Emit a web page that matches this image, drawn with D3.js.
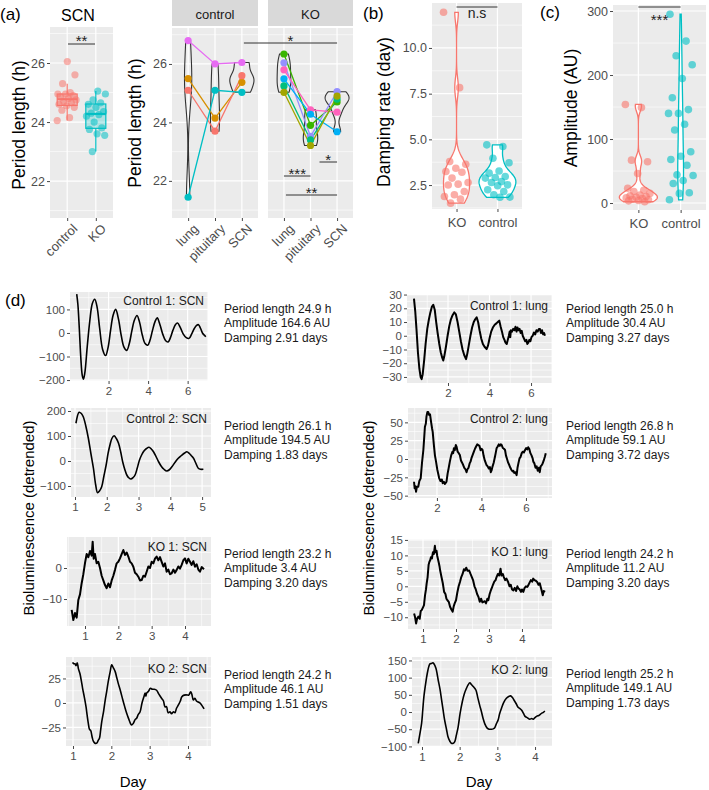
<!DOCTYPE html>
<html><head><meta charset="utf-8">
<script src="https://cdn.jsdelivr.net/npm/d3@7"></script>
<style>body{margin:0;background:#fff}svg{display:block;font-family:"Liberation Sans",Arial,sans-serif}</style>
</head><body><svg id="c" width="709" height="790"></svg>
<script>
// ---------------- DATA ----------------
// (a) SCN period length boxplot
const scnGroups = ['control','KO'];
const scnPeriodControl = [24.05,24.15,24.4,24.5,24.55,24.6,24.65,24.7,24.75,24.8,24.85,24.9,24.95,24.95,25.0,25.3,25.6,26.05];
const scnPeriodKO = [23.0,23.55,23.6,23.75,23.8,24.0,24.2,24.25,24.3,24.35,24.5,24.6,24.65,24.75,24.95,25.05];
// (a) paired tissues, one entry per animal [lung, pituitary, SCN]
const tissues = ['lung','pituitary','SCN'];
const pairedControl = [[26.8,26.0,26.05],[25.5,24.15,25.37],[25.1,23.7,25.6],[21.44,25.1,25.03]];
const pairedKO = [[26.34,23.9,24.7],[26.04,23.52,25.05],[25.8,24.43,24.35],[25.49,24.28,23.68],[25.25,23.4,24.8],[25.03,23.21,24.9]];
// (b) damping rate
const bcGroups = ['KO','control'];
const dampKO = [11.95,7.83,3.79,3.64,3.42,3.24,3.2,2.88,2.64,2.55,2.5,2.15,1.97,1.87,1.73,1.51];
const dampControl = [4.7,4.61,3.97,3.72,3.27,3.15,2.97,2.91,2.88,2.69,2.64,2.51,2.46,2.24,2.15,1.97,1.84,1.83];
// (c) amplitude
const ampKO = [154,149.1,67,64.5,46.1,23,20,18,15,12.5,11.2,10,9,8,7,6,5,4,3.4,2];
const ampControl = [295,253,230,216,194.5,164.6,146,140,140,123,114,80,73,68,59.1,44,43,35,30.4,16,15,5];
// (d) detrended bioluminescence traces [day, value]
const scnC1 = [[0.39,165],[0.45,120],[0.52,20],[0.6,-110],[0.67,-180],[0.73,-196],[0.8,-170],[0.92,-60],[1.05,50],[1.18,125],[1.3,143],[1.42,110],[1.55,20],[1.7,-70],[1.85,-96],[1.98,-60],[2.1,10],[2.23,75],[2.36,100],[2.5,60],[2.64,-10],[2.78,-60],[2.92,-74],[3.05,-45],[3.18,10],[3.31,55],[3.44,74],[3.57,45],[3.71,-10],[3.85,-45],[3.98,-52],[4.1,-30],[4.22,10],[4.35,48],[4.46,64],[4.6,35],[4.74,-5],[4.88,-32],[5.01,-38],[5.13,-20],[5.25,10],[5.38,35],[5.49,42],[5.62,25],[5.78,-5],[5.93,-20],[6.07,-23],[6.2,-5],[6.33,18],[6.45,32],[6.55,35],[6.65,20],[6.75,0],[6.85,-10],[6.92,-16]];
const scnC2 = [[1.03,151],[1.13,195],[1.2,190],[1.26,177],[1.34,140],[1.42,91],[1.5,30],[1.58,-29],[1.65,-95],[1.71,-127],[1.77,-120],[1.84,-103],[1.91,-60],[1.98,-16],[2.04,30],[2.1,64],[2.16,90],[2.23,101],[2.3,90],[2.37,71],[2.44,35],[2.5,-3],[2.57,-35],[2.63,-56],[2.7,-68],[2.76,-72],[2.83,-66],[2.89,-56],[2.96,-28],[3.03,4],[3.1,25],[3.17,40],[3.25,50],[3.33,55],[3.4,48],[3.47,37],[3.55,18],[3.63,-3],[3.72,-22],[3.8,-33],[3.89,-40],[3.97,-35],[4.05,-23],[4.15,-5],[4.25,11],[4.35,22],[4.45,32],[4.52,37],[4.6,30],[4.67,20],[4.73,11],[4.8,-8],[4.88,-29],[4.95,-33],[5.04,-33]];
const scnK1 = [[0.6,-13.5],[0.65,-16.8],[0.7,-14.5],[0.75,-16],[0.8,-10.3],[0.85,-8.5],[0.9,-4.9],[0.95,-2],[1.0,1.6],[1.05,4.5],[1.1,3.5],[1.15,5.5],[1.2,4],[1.23,8.5],[1.26,3],[1.3,4.5],[1.35,1.5],[1.4,2],[1.45,0],[1.5,-2.5],[1.55,-4],[1.6,-5.5],[1.65,-6.5],[1.7,-5],[1.75,-6.2],[1.8,-4],[1.85,-2.5],[1.9,-0.6],[1.95,1.5],[2.0,2],[2.05,3.1],[2.1,4.5],[2.15,5.8],[2.2,4.2],[2.25,5],[2.3,3.7],[2.35,2],[2.4,1.5],[2.45,0.4],[2.5,-1.5],[2.55,-2],[2.6,-2.8],[2.65,-4],[2.7,-3.9],[2.75,-2.5],[2.8,-2.8],[2.85,-1.2],[2.9,0.5],[2.95,0],[3.0,2],[3.05,1.5],[3.1,3],[3.15,3.7],[3.2,2.5],[3.25,3.5],[3.3,2],[3.35,0.5],[3.4,1.5],[3.45,-1.2],[3.5,-0.5],[3.55,-2],[3.6,-1.7],[3.65,-0.5],[3.7,-1.5],[3.75,-0.6],[3.8,0.5],[3.85,-0.2],[3.9,1],[3.95,2.5],[4.0,3.1],[4.05,1.5],[4.1,3],[4.15,2],[4.2,1],[4.25,2.2],[4.3,0.4],[4.35,1.2],[4.4,-0.5],[4.45,-1.2],[4.5,0.3],[4.57,-0.4]];
const scnK2 = [[0.99,41.5],[1.02,40],[1.05,40],[1.08,38],[1.11,41],[1.14,35],[1.18,30],[1.22,22],[1.25,15],[1.3,5],[1.34,-4],[1.37,-13],[1.4,-21],[1.43,-27],[1.46,-28],[1.5,-35],[1.53,-39],[1.57,-41],[1.62,-41],[1.66,-38],[1.69,-36],[1.72,-28],[1.75,-19],[1.8,-8],[1.84,3],[1.88,12],[1.92,22],[1.97,32],[2.01,39],[2.05,36],[2.1,32],[2.14,26],[2.18,20],[2.24,12],[2.3,3],[2.35,-4],[2.4,-10.5],[2.45,-16],[2.5,-21],[2.53,-22.5],[2.57,-21],[2.62,-17],[2.66,-15.6],[2.7,-12],[2.75,-9],[2.8,0],[2.85,6.4],[2.88,10],[2.9,7],[2.92,10],[2.97,12],[3.02,15],[3.07,14],[3.12,14],[3.18,13],[3.24,9],[3.31,4.8],[3.36,2],[3.4,-4],[3.44,-3.8],[3.48,-10],[3.53,-9],[3.57,-11],[3.62,-9],[3.66,-10],[3.7,-5.4],[3.75,-2],[3.8,2],[3.84,6.4],[3.9,8],[3.97,8.2],[4.02,8],[4.07,11.5],[4.1,9],[4.14,3],[4.18,4.8],[4.22,2],[4.27,1],[4.32,-0.3],[4.37,-3],[4.42,-6]];
const lungC1 = [[0.36,27],[0.42,18],[0.48,5],[0.55,-12],[0.62,-24],[0.68,-30],[0.73,-31.6],[0.78,-28],[0.85,-18],[0.92,-6],[1.0,5],[1.08,12],[1.15,17],[1.22,21],[1.29,22.6],[1.36,19],[1.43,10],[1.5,2],[1.58,-6],[1.65,-12],[1.72,-16],[1.77,-18],[1.82,-15],[1.9,-8],[1.98,0],[2.06,7],[2.14,12],[2.22,15],[2.3,17],[2.38,15.5],[2.46,10],[2.54,3],[2.62,-4],[2.7,-10],[2.78,-14],[2.87,-17],[2.93,-13],[3.0,-7],[3.08,0],[3.16,6],[3.24,10],[3.31,12],[3.38,13.4],[3.45,10],[3.52,4],[3.6,-2],[3.68,-6],[3.76,-8],[3.86,-9.7],[3.93,-7],[4.0,-2],[4.08,3],[4.16,6],[4.25,8],[4.33,9],[4.4,10],[4.47,11],[4.53,7],[4.6,3],[4.66,-1],[4.72,-3],[4.77,-5],[4.83,-6],[4.88,-3],[4.93,0],[4.97,3],[5.0,-1],[5.03,4],[5.08,3],[5.14,5],[5.2,4],[5.25,6.5],[5.3,3],[5.35,6],[5.39,4],[5.45,5],[5.5,2],[5.55,3.6],[5.6,0],[5.66,-2],[5.72,-4],[5.78,-3],[5.82,-6],[5.87,-5],[5.92,-3],[5.97,-4],[6.02,-1],[6.08,0],[6.14,2.4],[6.2,1],[6.26,4],[6.32,3],[6.38,5],[6.43,4.9],[6.48,2],[6.53,4],[6.58,1],[6.63,2],[6.67,0]];
const lungC2 = [[0.97,-31],[1.0,-40],[1.03,-37],[1.06,-44.6],[1.1,-38],[1.16,-37.8],[1.21,-30],[1.27,-26.4],[1.33,-5],[1.39,12.3],[1.43,30],[1.46,44],[1.5,48],[1.53,58],[1.57,64],[1.61,64],[1.65,60],[1.69,61],[1.74,50],[1.78,42],[1.81,37],[1.86,20],[1.91,5],[1.96,-3.6],[2.02,-15],[2.1,-26],[2.16,-30],[2.22,-28],[2.26,-33],[2.31,-31],[2.36,-34],[2.43,-31],[2.48,-20],[2.53,-12],[2.58,-3.6],[2.64,5],[2.7,10],[2.73,8],[2.76,14.6],[2.8,12],[2.85,19],[2.88,17],[2.93,10],[2.98,8],[3.03,5.5],[3.08,-2],[3.13,-5],[3.18,-8.2],[3.23,-12],[3.28,-14],[3.33,-18],[3.37,-14],[3.42,-12],[3.47,-6],[3.51,-3.6],[3.56,2],[3.61,6],[3.66,10],[3.71,14],[3.76,17],[3.81,20],[3.86,19],[3.91,18],[3.96,12],[4.0,14],[4.05,12.3],[4.1,4],[4.15,-2],[4.2,-6],[4.23,-8.2],[4.28,-10],[4.33,-13],[4.38,-11],[4.42,-18],[4.46,-15],[4.5,-10],[4.55,-5],[4.6,2],[4.64,8],[4.68,14.6],[4.73,17],[4.78,20],[4.83,18],[4.87,20],[4.91,19],[4.96,15],[5.01,14],[5.06,12.3],[5.1,5],[5.15,0],[5.2,-5],[5.25,-8.2],[5.3,-12],[5.35,-15],[5.4,-17],[5.43,-16],[5.48,-19],[5.53,-18],[5.58,-22],[5.62,-12],[5.66,-6],[5.71,0.9],[5.76,3],[5.81,8],[5.86,10],[5.91,9],[5.96,12.3],[6.01,15],[6.06,13],[6.1,16],[6.15,13.6],[6.2,8],[6.25,5],[6.3,1],[6.33,-3.6],[6.38,-6],[6.43,-12],[6.48,-10],[6.53,-16],[6.58,-12],[6.62,-18],[6.66,-10],[6.71,-8.2],[6.75,-6],[6.8,-2],[6.85,3],[6.89,7.7]];
const lungK1 = [[0.73,-8.8],[0.76,-10],[0.79,-12],[0.82,-10.5],[0.86,-9.8],[0.9,-10.5],[0.93,-8],[0.96,-7.7],[1.0,-6.8],[1.03,-6.1],[1.06,-3],[1.09,-1],[1.11,0.9],[1.14,3],[1.17,7],[1.19,7.8],[1.22,8.5],[1.24,9.4],[1.27,9],[1.3,11],[1.33,10.5],[1.36,13.1],[1.38,11],[1.41,11.5],[1.43,9.9],[1.47,8],[1.5,6.5],[1.52,5.1],[1.56,3],[1.6,1],[1.64,-1.8],[1.68,-2.5],[1.71,-4],[1.74,-4.5],[1.78,-5],[1.82,-6.6],[1.86,-7.5],[1.9,-8.2],[1.93,-6.5],[1.96,-5.5],[2.0,-4.5],[2.04,-2],[2.08,0],[2.12,1.4],[2.16,3],[2.2,4],[2.24,5.5],[2.27,5.1],[2.31,6],[2.35,5],[2.4,5.1],[2.44,4],[2.48,3],[2.52,1.9],[2.56,0],[2.6,-1],[2.64,-2.5],[2.68,-3.4],[2.72,-5],[2.76,-4],[2.8,-5.2],[2.83,-5],[2.87,-4.8],[2.91,-5.5],[2.95,-4],[2.98,-4.5],[3.02,-2.5],[3.05,-1.5],[3.08,-0.7],[3.12,0.5],[3.16,1.5],[3.2,2],[3.23,3],[3.27,4],[3.31,3.5],[3.35,5.7],[3.38,3.5],[3.42,4],[3.45,3],[3.49,2],[3.53,2.5],[3.58,1.4],[3.62,0],[3.66,0.5],[3.7,-1],[3.74,-1.3],[3.78,-0.5],[3.82,-1.5],[3.86,0],[3.89,-0.7],[3.93,-1],[3.97,-1.8],[4.0,-1],[4.04,-1.8],[4.08,-0.5],[4.12,0],[4.16,-0.2],[4.19,0.3],[4.23,1.2],[4.27,2],[4.31,1.5],[4.34,2.5],[4.38,2],[4.42,1.8],[4.46,1.4],[4.5,0.5],[4.54,1],[4.57,-0.3],[4.6,-1.5],[4.63,-2.9],[4.66,-1.5],[4.7,-1.8]];
const lungK2 = [[0.9,-91],[0.95,-60],[0.99,-33],[1.02,5],[1.05,44],[1.1,85],[1.14,112],[1.18,132],[1.21,140],[1.25,141],[1.29,143],[1.33,138],[1.37,127],[1.4,112],[1.43,93],[1.48,65],[1.52,35],[1.56,6],[1.6,-23],[1.65,-50],[1.69,-72],[1.74,-85],[1.78,-91],[1.83,-91],[1.87,-86],[1.91,-68],[1.96,-43],[2.01,-5],[2.07,30],[2.12,52],[2.18,69],[2.22,78],[2.27,85],[2.31,80],[2.36,74],[2.43,64],[2.48,42],[2.53,20],[2.58,0],[2.62,-18],[2.67,-35],[2.73,-47],[2.78,-50],[2.84,-50],[2.89,-49],[2.93,-46],[2.97,-35],[3.02,-23],[3.06,-5],[3.11,11],[3.17,28],[3.24,40],[3.3,45],[3.35,47],[3.4,42],[3.44,35],[3.5,24],[3.55,14],[3.6,10],[3.64,6],[3.69,-3],[3.73,-12],[3.8,-17],[3.86,-21],[3.91,-19],[3.95,-21],[4.0,-16],[4.05,-12],[4.1,-10],[4.17,-4],[4.22,-1],[4.26,3]];
const traceTitles = ['Control 1: SCN','Control 2: SCN','KO 1: SCN','KO 2: SCN','Control 1: lung','Control 2: lung','KO 1: lung','KO 2: lung'];
const tracePeriod = [24.9,26.1,23.2,24.2,25.0,26.8,24.2,25.2];
const traceAmp = [164.6,194.5,3.4,46.1,30.4,59.1,11.2,149.1];
const traceDamp = [2.91,1.83,3.20,1.51,3.27,3.72,3.20,1.73];

// ---------------- STYLE / HELPERS ----------------
const RED='#F8766D', CYAN='#00BFC4';
const ctrlColors=['#E76BF3','#D89000','#F8766D','#00BFC4'];
const koColors=['#39B600','#9590FF','#FF62BC','#00B0F6','#00BF7D','#A3A500'];
const FONT='"Liberation Sans",Arial,sans-serif';
const svg=d3.select('#c');
let clipN=0;

function txt(x,y,s,size,opts={}){
  const t=svg.append('text').attr('x',x).attr('y',y).text(s).attr('font-size',size).attr('font-family',FONT)
    .attr('fill',opts.fill||'#000').attr('text-anchor',opts.anchor||'start');
  if(opts.rotate) t.attr('transform',`rotate(${opts.rotate},${x},${y})`);
  if(opts.db) t.attr('dominant-baseline',opts.db);
  return t;
}
function minors(ticks,dom){
  const s=ticks[1]-ticks[0], lo=Math.min(...dom), hi=Math.max(...dom), out=[];
  for(let i=-1;i<ticks.length;i++){const v=ticks[0]+s*(i+0.5); if(v>=lo&&v<=hi) out.push(v);}
  return out;
}
function bg(x,y){
  const [x0,x1]=x.range(), [y1,y0]=y.range();
  svg.append('rect').attr('x',x0).attr('y',y0).attr('width',x1-x0).attr('height',y1-y0).attr('fill','#EBEBEB');
}
function hgrid(x,y,ticks){
  const [x0,x1]=x.range();
  minors(ticks,y.domain()).forEach(v=>svg.append('line').attr('x1',x0).attr('x2',x1).attr('y1',y(v)).attr('y2',y(v)).attr('stroke','#fff').attr('stroke-width',0.6));
  ticks.forEach(v=>svg.append('line').attr('x1',x0).attr('x2',x1).attr('y1',y(v)).attr('y2',y(v)).attr('stroke','#fff').attr('stroke-width',1.2));
}
function vgridNum(x,y,ticks){
  const [y1,y0]=y.range();
  minors(ticks,x.domain()).forEach(v=>svg.append('line').attr('x1',x(v)).attr('x2',x(v)).attr('y1',y0).attr('y2',y1).attr('stroke','#fff').attr('stroke-width',0.6));
  ticks.forEach(v=>svg.append('line').attr('x1',x(v)).attr('x2',x(v)).attr('y1',y0).attr('y2',y1).attr('stroke','#fff').attr('stroke-width',1.2));
}
function vgridCat(x,y){
  const [y1,y0]=y.range();
  x.domain().forEach(v=>svg.append('line').attr('x1',x(v)).attr('x2',x(v)).attr('y1',y0).attr('y2',y1).attr('stroke','#fff').attr('stroke-width',1.2));
}
function styleAxis(g,size){
  g.select('.domain').remove();
  g.selectAll('.tick line').attr('stroke','#333333').attr('stroke-width',0.9);
  g.selectAll('.tick text').attr('fill','#4D4D4D').attr('font-size',size).attr('font-family',FONT);
  return g;
}
function yAxis(y,x0,ticks,fmt,size){
  const g=svg.append('g').attr('transform',`translate(${x0},0)`)
    .call(d3.axisLeft(y).tickValues(ticks).tickSize(3).tickPadding(2).tickFormat(fmt));
  return styleAxis(g,size);
}
function xAxis(x,y0,ticks,fmt,size){
  const ax=d3.axisBottom(x).tickSize(3).tickPadding(3);
  if(ticks) ax.tickValues(ticks); if(fmt) ax.tickFormat(fmt);
  const g=svg.append('g').attr('transform',`translate(0,${y0})`).call(ax);
  return styleAxis(g,size);
}
function jit(i,w){ return (((i*0.6180339887)%1)-0.5)*2*w; }
function kde(vals){
  const s=vals.slice().sort(d3.ascending), n=s.length;
  const sd=d3.deviation(s), iqr=d3.quantile(s,0.75)-d3.quantile(s,0.25);
  let bw=0.9*Math.min(sd, iqr/1.34)*Math.pow(n,-0.2);
  if(!(bw>0)) bw=0.9*sd*Math.pow(n,-0.2);
  const lo=s[0], hi=s[n-1];
  return d3.range(0,201).map(i=>{const t=lo+(hi-lo)*i/200;
    return [t, d3.mean(s,v=>Math.exp(-0.5*((t-v)/bw)**2))/(bw*Math.sqrt(2*Math.PI))];});
}
function violin(dens,cx,y,halfMax,maxD,stroke,fill,sw){
  const a=d3.area().y(d=>y(d[0])).x0(d=>cx-halfMax*d[1]/maxD).x1(d=>cx+halfMax*d[1]/maxD);
  svg.append('path').attr('d',a(dens)).attr('fill',fill).attr('stroke',stroke).attr('stroke-width',sw);
}
function sig(x1,x2,y,label,ty){
  svg.append('line').attr('x1',x1).attr('x2',x2).attr('y1',y).attr('y2',y).attr('stroke','#333').attr('stroke-width',1);
  txt((x1+x2)/2,ty,label,15,{anchor:'middle',fill:'#222'});
}
function rotLabels(g){
  g.selectAll('.tick text').attr('text-anchor','end').attr('y',0).attr('dy','0.71em')
    .attr('transform','translate(4,5) rotate(-45)');
}

// ---------------- PANEL (a) left: SCN boxplot ----------------
{
  const x=d3.scalePoint().domain(scnGroups).range([50,113]).padding(0.6);
  const y=d3.scaleLinear().domain([20.75,27.22]).range([218,27]);
  bg(x,y); hgrid(x,y,[22,24,26]); vgridCat(x,y);
  [[scnPeriodControl,RED,'control'],[scnPeriodKO,CYAN,'KO']].forEach(([vals,col,grp],k)=>{
    const s=vals.slice().sort(d3.ascending);
    const q1=d3.quantile(s,0.25), med=d3.quantile(s,0.5), q3=d3.quantile(s,0.75), iqr=q3-q1;
    const lo=d3.min(s.filter(v=>v>=q1-1.5*iqr)), hi=d3.max(s.filter(v=>v<=q3+1.5*iqr));
    const cx=x(grp), bw=10;
    svg.append('line').attr('x1',cx).attr('x2',cx).attr('y1',y(hi)).attr('y2',y(q3)).attr('stroke',col).attr('stroke-width',1.2);
    svg.append('line').attr('x1',cx).attr('x2',cx).attr('y1',y(q1)).attr('y2',y(lo)).attr('stroke',col).attr('stroke-width',1.2);
    svg.append('rect').attr('x',cx-bw).attr('y',y(q3)).attr('width',2*bw).attr('height',y(q1)-y(q3))
      .attr('fill',col).attr('fill-opacity',0.25).attr('stroke',col).attr('stroke-width',1.2);
    svg.append('line').attr('x1',cx-bw).attr('x2',cx+bw).attr('y1',y(med)).attr('y2',y(med)).attr('stroke',col).attr('stroke-width',2);
    vals.forEach((v,i)=>svg.append('circle').attr('cx',cx+jit(i+k*7,10)).attr('cy',y(v)).attr('r',3.6).attr('fill',col).attr('fill-opacity',0.55));
  });
  yAxis(y,50,[22,24,26],d3.format('d'),12.5);
  rotLabels(xAxis(x,218,null,null,13));
  txt(19,125,'Period length (h)',17.5,{anchor:'middle',rotate:-90,db:'central'});
  txt(78,21,'SCN',16,{anchor:'middle'});
  sig(68,95,44,'**',46);
  txt(0,20,'(a)',17);
}

// ---------------- PANEL (a) right: paired tissues ----------------
{
  const y=d3.scaleLinear().domain([20.73,27.23]).range([218,28]);
  const facets=[{name:'control',x0:172,x1:258,data:pairedControl,cols:ctrlColors},
                {name:'KO',x0:268,x1:353,data:pairedKO,cols:koColors}];
  const xs={};
  facets.forEach(f=>{
    const x=d3.scalePoint().domain(tissues).range([f.x0,f.x1]).padding(0.6); xs[f.name]=x;
    svg.append('rect').attr('x',f.x0).attr('y',0).attr('width',f.x1-f.x0).attr('height',26).attr('fill','#D9D9D9');
    txt((f.x0+f.x1)/2,14,f.name,13,{anchor:'middle',db:'central',fill:'#1A1A1A'});
    bg(x,y); hgrid(x,y,[22,24,26]); vgridCat(x,y);
    const dens=tissues.map((t,j)=>kde(f.data.map(r=>r[j])));
    const maxD=d3.max(dens,d=>d3.max(d,e=>e[1]));
    const step=x.step();
    dens.forEach((d,j)=>violin(d,x(tissues[j]),y,0.45*step,maxD,'#333','none',1.1));
    const line=d3.line().x(d=>d[0]).y(d=>d[1]);
    f.data.forEach((r,i)=>{
      const pts=r.map((v,j)=>[x(tissues[j]),y(v)]);
      svg.append('path').attr('d',line(pts)).attr('fill','none').attr('stroke',f.cols[i]).attr('stroke-width',1.3);
    });
    f.data.forEach((r,i)=>r.forEach((v,j)=>svg.append('circle').attr('cx',x(tissues[j])).attr('cy',y(v)).attr('r',3.6).attr('fill',f.cols[i])));
    rotLabels(xAxis(x,218,null,null,13));
  });
  yAxis(y,172,[22,24,26],d3.format('d'),12.5);
  txt(135,123,'Period length (h)',17.5,{anchor:'middle',rotate:-90,db:'central'});
  const xc=xs.control, xk=xs.KO;
  sig(xc('SCN')+2,xk('SCN'),43,'*',46);
  sig(xk('pituitary')+9,xk('SCN'),162,'*',165);
  sig(xk('lung'),xk('pituitary'),176,'***',179);
  sig(xk('lung')+2,xk('SCN'),195,'**',198);
}

// ---------------- PANELS (b), (c) ----------------
function violinPanel(cfg){
  const x=d3.scalePoint().domain(bcGroups).range([cfg.x0,cfg.x1]).padding(0.6);
  const y=d3.scaleLinear().domain(cfg.ydom).range([cfg.yb,cfg.yt]);
  bg(x,y); hgrid(x,y,cfg.ticks); vgridCat(x,y);
  const sets=[[cfg.ko,RED,'KO'],[cfg.ctrl,CYAN,'control']];
  const dens=sets.map(s=>kde(s[0]));
  const maxD=d3.max(dens,d=>d3.max(d,e=>e[1]));
  sets.forEach((s,k)=>violin(dens[k],x(s[2]),y,0.45*x.step(),maxD,s[1],'#fff',1.3));
  sets.forEach((s,k)=>s[0].forEach((v,i)=>svg.append('circle').attr('cx',x(s[2])+jit(i+k*5,13)).attr('cy',y(v)).attr('r',3.8).attr('fill',s[1]).attr('fill-opacity',0.6)));
  yAxis(y,cfg.x0,cfg.ticks,cfg.fmt,12.5);
  xAxis(x,cfg.yb,null,null,13).selectAll('.tick text').attr('dy','0.9em');
  return {x,y};
}
{
  const p=violinPanel({x0:432,x1:522,yt:3,yb:209,ydom:[1.19,12.46],ticks:[2.5,5,7.5,10],fmt:d3.format('.1f'),ko:dampKO,ctrl:dampControl});
  txt(384,112,'Damping rate (day)',17.5,{anchor:'middle',rotate:-90,db:'central'});
  svg.append('line').attr('x1',p.x('KO')).attr('x2',p.x('control')).attr('y1',7).attr('y2',7).attr('stroke','#333');
  txt((p.x('KO')+p.x('control'))/2,18,'n.s',14,{anchor:'middle',fill:'#222'});
  txt(363,19,'(b)',17);
}
{
  const p=violinPanel({x0:613,x1:706,yt:5,yb:210,ydom:[-10.9,309.4],ticks:[0,100,200,300],fmt:d3.format('d'),ko:ampKO,ctrl:ampControl});
  txt(571,108,'Amplitude (AU)',17.5,{anchor:'middle',rotate:-90,db:'central'});
  svg.append('line').attr('x1',p.x('KO')).attr('x2',p.x('control')).attr('y1',7).attr('y2',7).attr('stroke','#333');
  txt((p.x('KO')+p.x('control'))/2,25,'***',15,{anchor:'middle',fill:'#222'});
  txt(540,18,'(c)',17);
}

// ---------------- PANEL (d): traces ----------------
const traces=[
 {data:scnC1,x:[70,208],y:[292,381],xd:[0.05,7.03],yd:[-204,174],xt:[2,4,6],yt:[-200,-100,0,100],ly:304.5,ay:308,tx:224},
 {data:scnC2,x:[71,211],y:[408,497],xd:[0.874,5.28],yd:[-144,212],xt:[1,2,3,4,5],yt:[-100,0,100,200],ly:422.5,ay:425,tx:224},
 {data:scnK1,x:[67,211],y:[537,626],xd:[0.46,4.78],yd:[-18.7,10],xt:[1,2,3,4],yt:[-10,0],ly:550.5,ay:553,tx:224,sw:2},
 {data:scnK2,x:[66,211],y:[657,746],xd:[0.817,4.6],yd:[-43.9,46.9],xt:[1,2,3,4],yt:[-25,0,25],ly:672.5,ay:674,tx:224},
 {data:lungC1,x:[407,552],y:[294,383],xd:[0.024,7.01],yd:[-34.4,30.4],xt:[2,4,6],yt:[-30,-20,-10,0,10,20,30],ly:310,ay:308,tx:566,sw:2},
 {data:lungC2,x:[408,552],y:[408,498],xd:[0.7,7.17],yd:[-53.2,69.6],xt:[2,4,6],yt:[-50,-25,0,25,50],ly:422.5,ay:425,tx:566,sw:2},
 {data:lungK1,x:[408,552],y:[539,629],xd:[0.545,4.91],yd:[-13.8,15.3],xt:[1,2,3,4],yt:[-10,-5,0,5,10,15],ly:555.5,ay:553,tx:566,sw:2},
 {data:lungK2,x:[412,552],y:[657,747],xd:[0.735,4.45],yd:[-101.7,160],xt:[1,2,3,4],yt:[-100,-50,0,50,100,150],ly:673.5,ay:673,tx:566}
];
traces.forEach((c,i)=>{
  const x=d3.scaleLinear().domain(c.xd).range(c.x);
  const y=d3.scaleLinear().domain(c.yd).range([c.y[1],c.y[0]]);
  bg(x,y); hgrid(x,y,c.yt); vgridNum(x,y,c.xt);
  const id='clip'+(clipN++);
  svg.append('clipPath').attr('id',id).append('rect').attr('x',c.x[0]).attr('y',c.y[0]).attr('width',c.x[1]-c.x[0]).attr('height',c.y[1]-c.y[0]);
  const line=d3.line().x(d=>x(d[0])).y(d=>y(d[1])).curve(c.sw?d3.curveLinear:d3.curveCatmullRom.alpha(0.5));
  svg.append('path').attr('clip-path',`url(#${id})`).attr('d',line(c.data)).attr('fill','none').attr('stroke','#000').attr('stroke-width',c.sw||1.6).attr('stroke-linejoin','round');
  yAxis(y,c.x[0],c.yt,d3.format('d'),11.5);
  xAxis(x,c.y[1],c.xt,d3.format('d'),11.5);
  txt(c.x[1]-4,c.ly,traceTitles[i],12,{anchor:'end',fill:'#1A1A1A'});
  const lines=[`Period length ${tracePeriod[i].toFixed(1)} h`,`Amplitude ${traceAmp[i].toFixed(1)} AU`,`Damping ${traceDamp[i].toFixed(2)} days`];
  lines.forEach((s,k)=>txt(c.tx,c.ay+4.5+k*14.5,s,12,{fill:'#1A1A1A'}));
});
txt(28,518,'Bioluminescence (detrended)',15,{anchor:'middle',rotate:-90,db:'central'});
txt(368,518,'Bioluminescence (detrended)',15,{anchor:'middle',rotate:-90,db:'central'});
txt(133,787,'Day',15,{anchor:'middle'});
txt(479,787,'Day',15,{anchor:'middle'});
txt(5,306,'(d)',17);
</script></body></html>
